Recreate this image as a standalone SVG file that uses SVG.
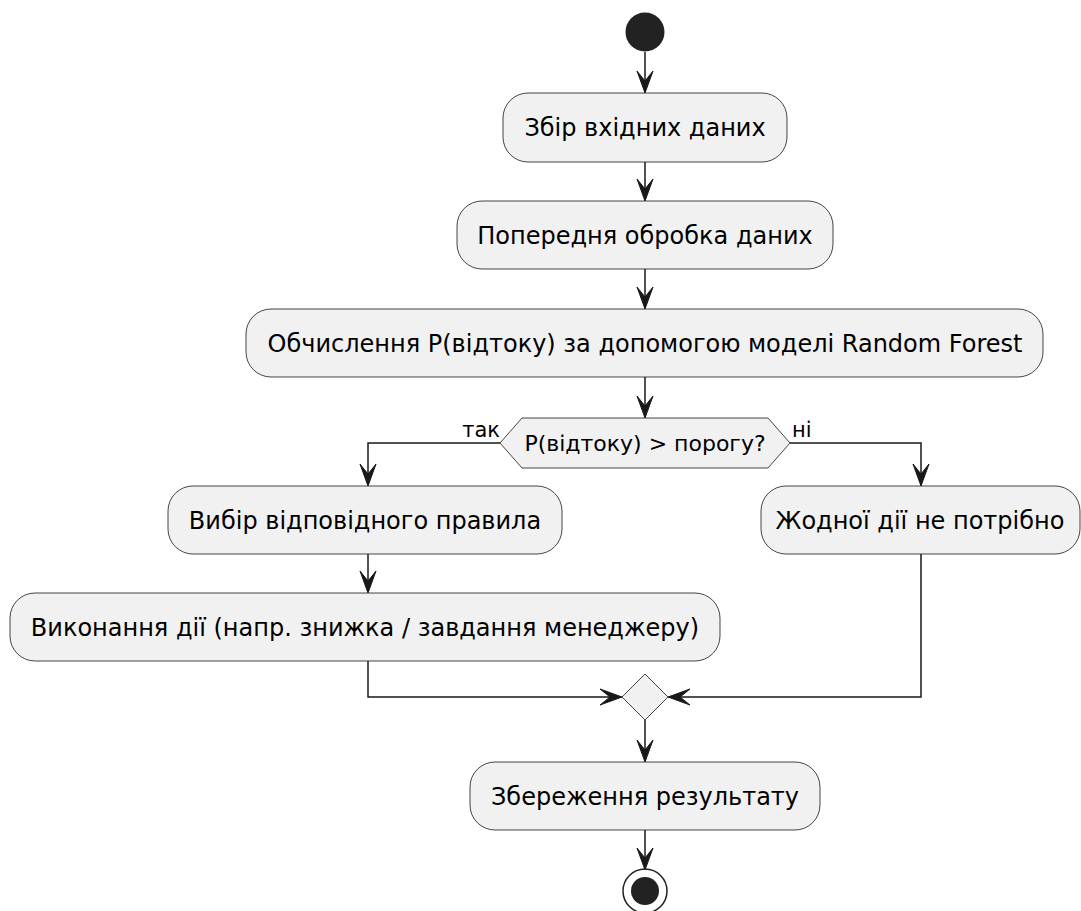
<svg xmlns="http://www.w3.org/2000/svg" width="1081" height="911" viewBox="0 0 1081 911">
<style>
.box{fill:#F1F1F1;stroke:#181818;stroke-width:0.8}
.t{font-family:"DejaVu Sans",sans-serif;font-size:24px;fill:#000;text-anchor:middle}
.dt{font-family:"DejaVu Sans",sans-serif;font-size:22px;fill:#000;text-anchor:middle}
.lbl{font-family:"DejaVu Sans",sans-serif;font-size:21px;fill:#000}
.ln{fill:none;stroke:#181818;stroke-width:1.5}
.ah{fill:#181818;stroke:#181818;stroke-width:1}
</style>
<rect width="1081" height="911" fill="#FFFFFF"/>
<g id="connectors">
<path class="ln" d="M645,52 V92"/>
<path class="ln" d="M645,162 V200"/>
<path class="ln" d="M645,269 V308"/>
<path class="ln" d="M645,377 V417"/>
<path class="ln" d="M500,443 H368 V485"/>
<path class="ln" d="M790,443 H921 V485"/>
<path class="ln" d="M368,554 V592"/>
<path class="ln" d="M368,661 V697 H621"/>
<path class="ln" d="M921,554 V697 H669"/>
<path class="ln" d="M645,720 V761"/>
<path class="ln" d="M645,830 V868"/>
<polygon class="ah" points="637,71 645,93 653,71 645,81"/>
<polygon class="ah" points="637,179 645,201 653,179 645,189"/>
<polygon class="ah" points="637,287 645,309 653,287 645,297"/>
<polygon class="ah" points="637,396 645,418 653,396 645,406"/>
<polygon class="ah" points="360,464 368,486 376,464 368,474"/>
<polygon class="ah" points="913,464 921,486 929,464 921,474"/>
<polygon class="ah" points="360,571 368,593 376,571 368,581"/>
<polygon class="ah" points="600,689 622,697 600,705 610,697"/>
<polygon class="ah" points="690,689 668,697 690,705 680,697"/>
<polygon class="ah" points="637,740 645,762 653,740 645,750"/>
<polygon class="ah" points="637,848 645,870 653,848 645,858"/>
<text class="lbl" x="500" y="437" text-anchor="end">так</text>
<text class="lbl" x="792" y="437">ні</text>
</g>
<g id="start"><circle cx="645" cy="32" r="19.5" fill="#222222"/></g>
<g id="n1"><rect class="box" x="503" y="93" width="284" height="69" rx="25"/><text class="t" x="645" y="136">Збір вхідних даних</text></g>
<g id="n2"><rect class="box" x="457" y="201" width="376" height="68" rx="25"/><text class="t" x="645" y="243.5">Попередня обробка даних</text></g>
<g id="n3"><rect class="box" x="246" y="309" width="797" height="68" rx="25"/><text class="t" x="645" y="351.5">Обчислення P(відтоку) за допомогою моделі Random Forest</text></g>
<g id="d1"><polygon class="box" points="500,443 522,418 768,418 790,443 768,468 522,468"/><text class="dt" x="645" y="451">P(відтоку) &gt; порогу?</text></g>
<g id="n4"><rect class="box" x="168" y="486" width="394" height="68" rx="25"/><text class="t" x="365" y="528.5">Вибір відповідного правила</text></g>
<g id="n5"><rect class="box" x="10" y="593" width="710" height="68" rx="25"/><text class="t" x="365" y="635.5">Виконання дії (напр. знижка / завдання менеджеру)</text></g>
<g id="n6"><rect class="box" x="761" y="486" width="319" height="68" rx="25"/><text class="t" x="920" y="528.5">Жодної дії не потрібно</text></g>
<g id="merge"><polygon class="box" points="645,674 668,697 645,720 622,697"/></g>
<g id="n7"><rect class="box" x="470" y="762" width="350" height="68" rx="25"/><text class="t" x="645" y="804.5">Збереження результату</text></g>
<g id="end"><circle cx="645" cy="891" r="22" fill="none" stroke="#222222" stroke-width="1.5"/><circle cx="645" cy="891" r="14" fill="#222222"/></g>
</svg>
